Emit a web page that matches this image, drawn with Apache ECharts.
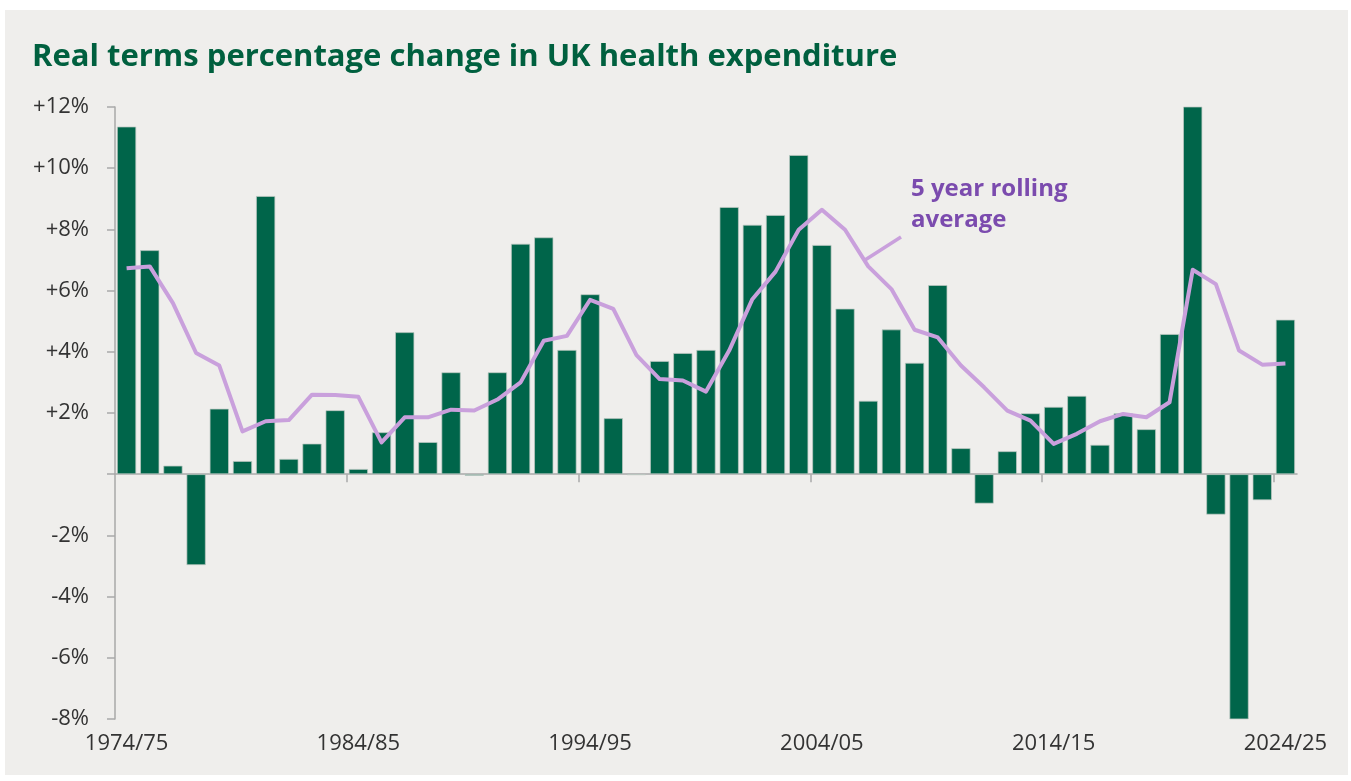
<!DOCTYPE html>
<html>
<head>
<meta charset="utf-8">
<title>Real terms percentage change in UK health expenditure</title>
<script src="https://cdn.jsdelivr.net/npm/echarts@6/dist/echarts.min.js"></script>
<style>
  html, body { margin: 0; padding: 0; background: #ffffff; }
  #main {
    position: absolute;
    left: 5px;
    top: 10px;
    width: 1343px;
    height: 765px;
    background: #efeeec;
  }
</style>
</head>
<body>
<div id="main"></div>
<script>
// financial years 1974/75 .. 2024/25
const years = [];
for (let y = 1974; y <= 2024; y++) {
  years.push(y + '/' + String(y + 1).slice(2));
}

// annual real terms change, %
const annualChange = [
  11.36, 7.32, 0.28, -2.97, 2.14, 0.43, 9.09, 0.50, 1.00, 2.09,
  0.17, 1.37, 4.64, 1.05, 3.33, -0.05, 3.33, 7.53, 7.74, 4.06,
  5.88, 1.83, -0.03, 3.70, 3.96, 4.06, 8.73, 8.15, 8.47, 10.43,
  7.49, 5.41, 2.40, 4.73, 3.64, 6.18, 0.85, -0.96, 0.75, 1.99,
  2.20, 2.56, 0.96, 1.99, 1.47, 4.58, 12.07, -1.32, -8.01, -0.85,
  5.05
];

// 5 year rolling average, %
const rollingAvg = [
  6.73, 6.79, 5.59, 3.96, 3.55, 1.40, 1.73, 1.77, 2.60, 2.59,
  2.53, 1.04, 1.86, 1.86, 2.11, 2.08, 2.44, 3.00, 4.36, 4.52,
  5.70, 5.40, 3.89, 3.11, 3.06, 2.70, 4.04, 5.72, 6.62, 7.99,
  8.64, 7.99, 6.79, 6.05, 4.72, 4.47, 3.55, 2.84, 2.08, 1.75,
  0.99, 1.32, 1.73, 1.97, 1.86, 2.35, 6.68, 6.21, 4.04, 3.58,
  3.62
];

const yTicks = [-8, -6, -4, -2, 0, 2, 4, 6, 8, 10, 12];
// ticks on the zero line sit between categories, every ten years
const decadeTicks = [9.5, 19.5, 29.5, 39.5, 49.5];

const GREEN = '#00654a';
const LILAC = '#c9a0dc';
const PURPLE = '#7b4bae';
const AXIS_GREY = '#a9a9a9';
const FONT = '"Open Sans", "Noto Sans", sans-serif';

const chart = echarts.init(document.getElementById('main'), null, { renderer: 'canvas' });

const option = {
  backgroundColor: 'transparent',
  animation: false,
  title: {
    text: 'Real terms percentage change in UK health expenditure',
    left: 27,
    top: 32,
    padding: 0,
    textStyle: {
      color: '#00603f',
      fontFamily: FONT,
      fontWeight: 'bold',
      fontSize: 31
    }
  },
  grid: {
    left: 110,
    right: 51,
    top: 97,
    bottom: 56
  },
  xAxis: [
    {
      // zero line only, ticks between decades
      type: 'value',
      min: -0.5,
      max: years.length - 0.5,
      axisLine: { show: true, onZero: true, lineStyle: { color: AXIS_GREY, width: 1.5 } },
      axisTick: {
        show: true,
        customValues: decadeTicks,
        length: 8,
        lineStyle: { color: AXIS_GREY, width: 1.5 }
      },
      axisLabel: { show: false },
      splitLine: { show: false }
    },
    {
      // category labels along the bottom
      type: 'category',
      data: years,
      position: 'bottom',
      boundaryGap: true,
      axisLine: { show: false, onZero: false },
      axisTick: { show: false },
      axisLabel: {
        interval: 9,
        margin: 14,
        color: '#333333',
        fontFamily: FONT,
        fontSize: 22
      },
      splitLine: { show: false }
    }
  ],
  yAxis: {
    type: 'value',
    min: yTicks[0],
    max: yTicks[yTicks.length - 1],
    interval: 2,
    axisLine: { show: true, onZero: false, lineStyle: { color: AXIS_GREY, width: 1.5 } },
    axisTick: { show: true, length: 8, lineStyle: { color: AXIS_GREY, width: 1.5 } },
    splitLine: { show: false },
    axisLabel: {
      margin: 26,
      color: '#333333',
      fontFamily: FONT,
      fontSize: 22,
      formatter: function (v) {
        if (v === 0) return '';
        return (v > 0 ? '+' : '') + v + '%';
      }
    }
  },
  series: [
    {
      name: 'Annual change',
      type: 'bar',
      xAxisIndex: 1,
      data: annualChange,
      barCategoryGap: '17%',
      itemStyle: {
        color: GREEN,
        borderColor: 'rgba(190,200,195,0.9)',
        borderWidth: 0.8
      },
      z: 2
    },
    {
      name: '5 year rolling average',
      type: 'line',
      xAxisIndex: 1,
      data: rollingAvg,
      showSymbol: false,
      symbol: 'none',
      lineStyle: { color: LILAC, width: 4, join: 'round' },
      z: 3
    }
  ],
  graphic: [
    {
      // connector from the line to its label
      type: 'line',
      shape: { x1: 860, y1: 250, x2: 896, y2: 227 },
      style: { stroke: LILAC, lineWidth: 3.5 },
      z: 10
    },
    {
      type: 'text',
      left: 906,
      top: 164,
      style: {
        text: '5 year rolling\naverage',
        fill: PURPLE,
        font: 'bold 24px ' + FONT,
        lineHeight: 31
      },
      z: 10
    }
  ]
};

chart.setOption(option);
</script>
</body>
</html>
